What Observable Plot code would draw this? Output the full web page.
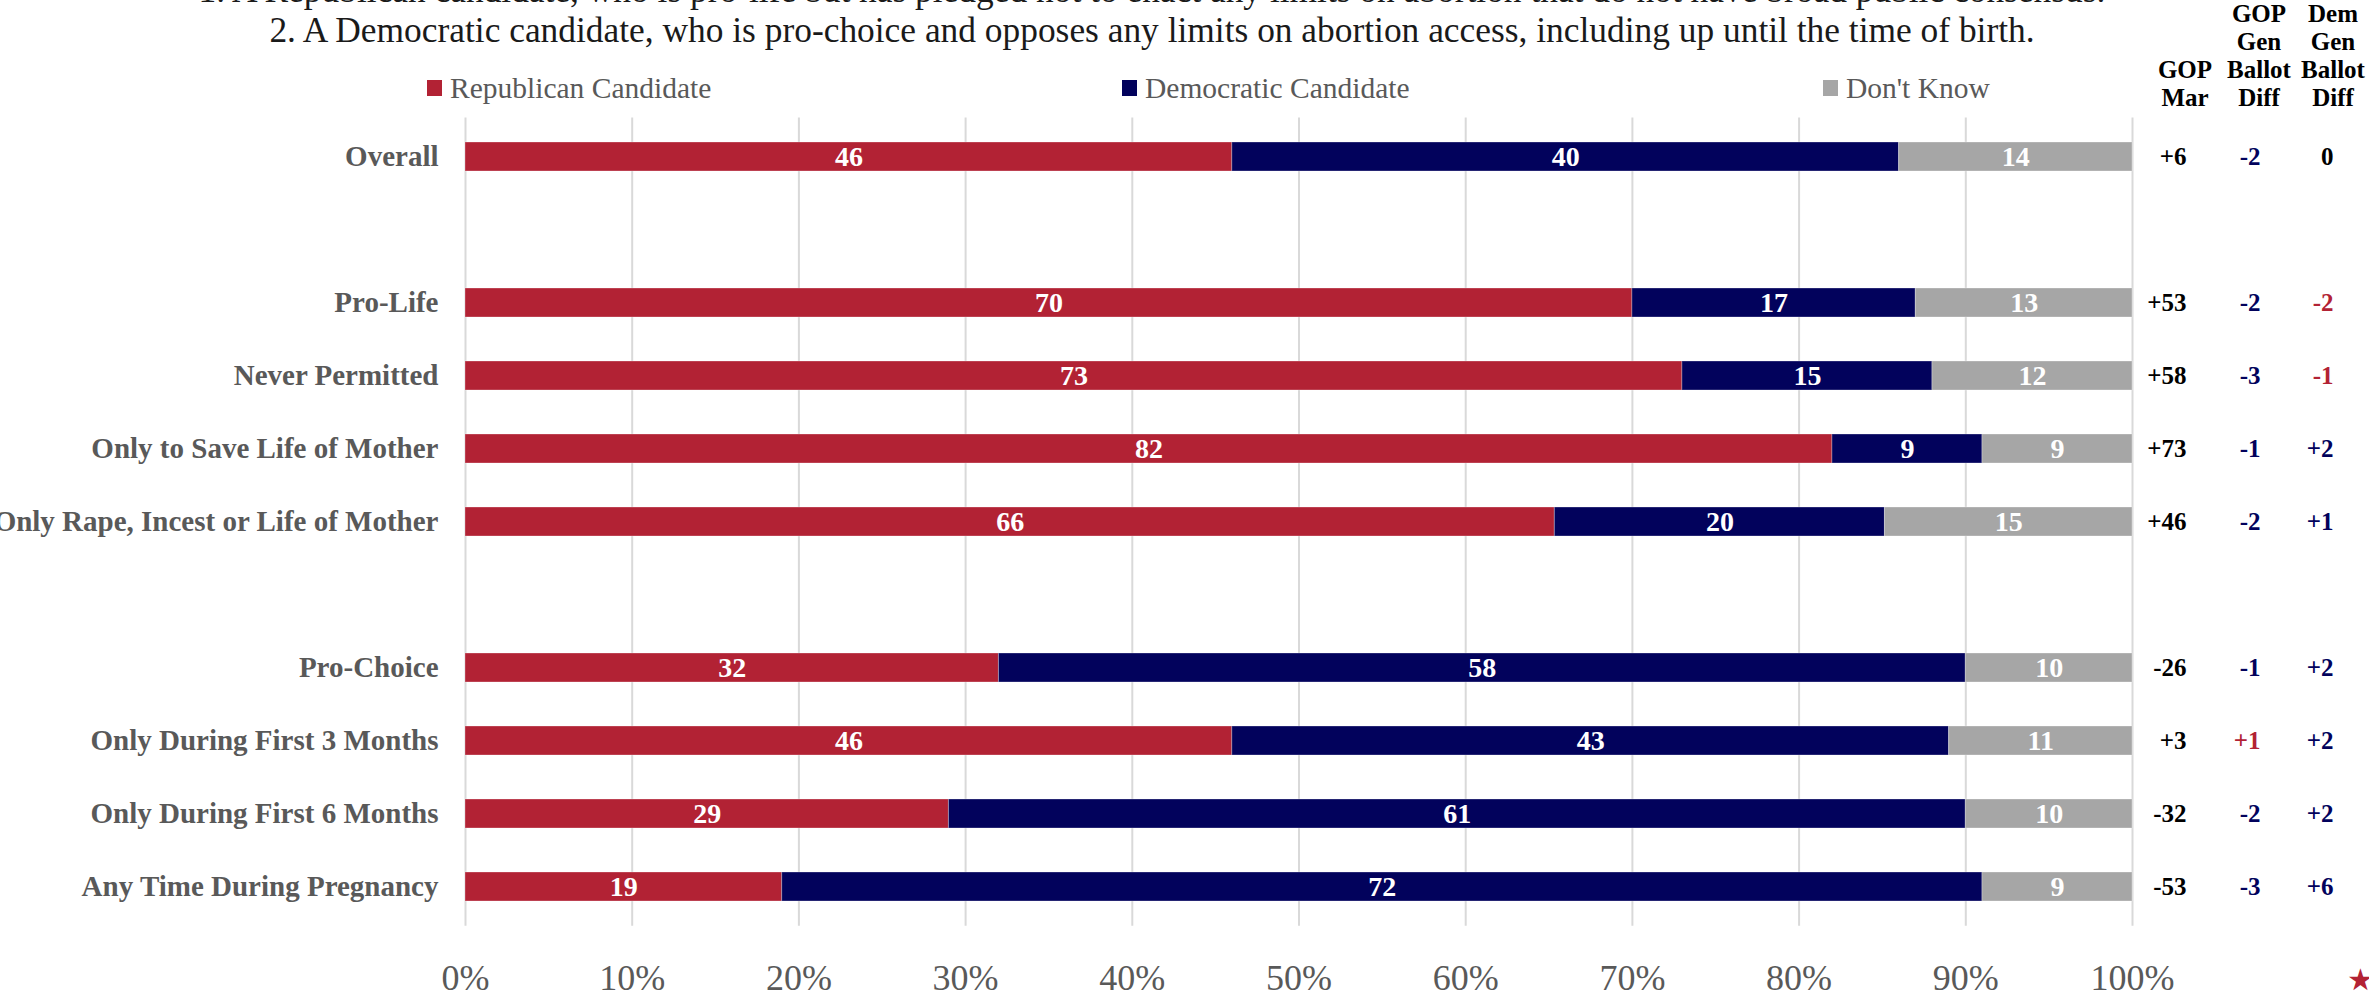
<!DOCTYPE html>
<html>
<head>
<meta charset="utf-8">
<script src="https://cdn.jsdelivr.net/npm/d3@7"></script>
<script src="https://cdn.jsdelivr.net/npm/@observablehq/plot@0.6"></script>
<style>
  body { margin: 0; background: #fff; }
  #wrap { position: relative; width: 2369px; height: 997px; overflow: hidden; font-family: "Liberation Serif", serif; }
  #header { position: relative; height: 110px; }
  .sub { position: absolute; left: 0; width: 2304px; text-align: center; font-size: 35.4px; line-height: 40px; color: #1a1a1a; white-space: nowrap; }
  .colhead { position: absolute; width: 100px; text-align: center; font-weight: bold; font-size: 25px; line-height: 28px; color: #000; }
  .leg { position: absolute; top: 71px; height: 34px; display: flex; align-items: center; font-size: 29.5px; color: #595959; white-space: nowrap; }
  .leg .sw { display: inline-block; width: 15px; height: 16px; margin-right: 8px; }
  #star { position: absolute; left: 2347px; top: 962px; font-size: 30px; color: #b22234; }
</style>
</head>
<body>
<div id="wrap">
  <div id="header"></div>
  <div id="chart"></div>
  <div id="star">★</div>
</div>
<script>
// ---- data ----
const subtitleLines = [
  "1. A Republican candidate, who is pro-life but has pledged not to enact any limits on abortion that do not have broad public consensus.",
  "2. A Democratic candidate, who is pro-choice and opposes any limits on abortion access, including up until the time of birth."
];
const series = ["Republican Candidate", "Democratic Candidate", "Don't Know"];
const seriesColors = ["#b22234", "#02025c", "#a6a6a6"];
const rowOrder = ["Overall", "gap1", "Pro-Life", "Never Permitted", "Only to Save Life of Mother",
  "Only Rape, Incest or Life of Mother", "gap2", "Pro-Choice", "Only During First 3 Months",
  "Only During First 6 Months", "Any Time During Pregnancy"];
const categories = ["Overall", "Pro-Life", "Never Permitted", "Only to Save Life of Mother",
  "Only Rape, Incest or Life of Mother", "Pro-Choice", "Only During First 3 Months",
  "Only During First 6 Months", "Any Time During Pregnancy"];
const republican = [46, 70, 73, 82, 66, 32, 46, 29, 19];
const democratic = [40, 17, 15, 9, 20, 58, 43, 61, 72];
const dontKnow   = [14, 13, 12, 9, 15, 10, 11, 10, 9];
const gopMargin  = [6, 53, 58, 73, 46, -26, 3, -32, -53];
const gopGenDiff = [-2, -2, -3, -1, -2, -1, 1, -2, -3];
const demGenDiff = [0, -2, -1, 2, 1, 2, 2, 2, 6];
const columnHeaders = [["GOP", "Mar"], ["GOP", "Gen", "Ballot", "Diff"], ["Dem", "Gen", "Ballot", "Diff"]];
const xTicks = [0, 0.1, 0.2, 0.3, 0.4, 0.5, 0.6, 0.7, 0.8, 0.9, 1];
const xTickLabels = ["0%", "10%", "20%", "30%", "40%", "50%", "60%", "70%", "80%", "90%", "100%"];

// ---- header (HTML) ----
const header = document.getElementById("header");
subtitleLines.forEach((t, i) => {
  const d = document.createElement("div");
  d.className = "sub";
  d.style.top = (10 - 40 * (subtitleLines.length - 1 - i)) + "px";
  d.textContent = t;
  header.appendChild(d);
});
const legendX = [427, 1122, 1823];
series.forEach((s, i) => {
  const d = document.createElement("div");
  d.className = "leg";
  d.style.left = legendX[i] + "px";
  const sw = document.createElement("span");
  sw.className = "sw";
  sw.style.background = seriesColors[i];
  d.appendChild(sw);
  d.appendChild(document.createTextNode(s));
  header.appendChild(d);
});
const colCenters = [2185, 2259, 2333];
columnHeaders.forEach((lines, i) => {
  const d = document.createElement("div");
  d.className = "colhead";
  d.style.left = (colCenters[i] - 50) + "px";
  d.style.top = (112 - 28 * lines.length) + "px";
  d.innerHTML = lines.join("<br>");
  header.appendChild(d);
});

// ---- table for Plot ----
const values = [republican, democratic, dontKnow];
const data = [];
categories.forEach((c, i) => series.forEach((s, j) => data.push({cat: c, series: s, value: values[j][i]})));
const rowsData = categories.map((c, i) => ({cat: c, mar: gopMargin[i], gop: gopGenDiff[i], dem: demGenDiff[i]}));
const fmt = v => v > 0 ? "+" + v : String(v);
const navy = "#02025c", red = "#b22234";
const gopColor = v => v > 0 ? red : v < 0 ? navy : "#000";
const demColor = v => v > 0 ? navy : v < 0 ? red : "#000";

const font = "Liberation Serif";
const stackOpts = {x: "value", y: "cat", z: "series", order: series, offset: "normalize"};

const chart = Plot.plot({
  width: 2369,
  height: 887,
  marginLeft: 465,
  marginRight: 237,
  marginTop: 7.5,
  marginBottom: 71.3,
  style: {background: "#fff", fontFamily: font},
  x: {domain: [0, 1], axis: null},
  y: {domain: rowOrder, paddingInner: 0.6, paddingOuter: 0.3, axis: null},
  color: {domain: series, range: seriesColors},
  marks: [
    Plot.ruleX(xTicks, {stroke: "#d9d9d9", strokeWidth: 2}),
    Plot.barX(data, Plot.stackX({...stackOpts, fill: "series", stroke: "white", strokeOpacity: 0.3, strokeWidth: 1})),
    Plot.text(data, Plot.stackX({...stackOpts, text: "value", fill: "white", fontSize: 28, fontWeight: "bold", fontFamily: font})),
    Plot.axisY({tickSize: 0, tickPadding: 27, fontSize: 29, fontWeight: "bold", fontFamily: font, color: "#595959",
      label: null, tickFormat: d => d.startsWith("gap") ? "" : d}),
    Plot.axisX({ticks: xTicks, tickFormat: (d, i) => xTickLabels[i], tickSize: 0, tickPadding: 38, fontSize: 36,
      fontFamily: font, color: "#595959", label: null}),
    Plot.text(rowsData, {y: "cat", frameAnchor: "right", dx: 54, text: d => fmt(d.mar), fill: "#000", fontSize: 25, fontWeight: "bold", fontFamily: font}),
    Plot.text(rowsData, {y: "cat", frameAnchor: "right", dx: 128, text: d => fmt(d.gop), fill: d => gopColor(d.gop), fontSize: 25, fontWeight: "bold", fontFamily: font}),
    Plot.text(rowsData, {y: "cat", frameAnchor: "right", dx: 201, text: d => fmt(d.dem), fill: d => demColor(d.dem), fontSize: 25, fontWeight: "bold", fontFamily: font})
  ]
});
document.getElementById("chart").appendChild(chart);
</script>
</body>
</html>
